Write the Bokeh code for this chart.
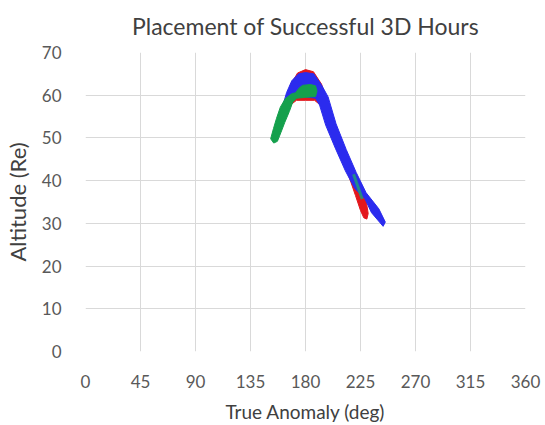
from bokeh.plotting import figure
from bokeh.models import FixedTicker
from bokeh.embed import file_html
from bokeh.resources import INLINE

# Outlines (true anomaly in deg, altitude in Re) of the regions swept by the
# successful 3D-hour tracks, one region per group.
red_deg = [163.6, 167.7, 173.5, 180.0, 186.5, 193.1, 196.4, 201.3, 209.5, 217.5,
           224.0, 229.6, 231.3, 230.2, 227.7, 225.0, 220.9, 214.3, 206.2, 198.2,
           192.6, 187.4, 180.0, 172.6, 167.7]
red_alt = [58.7, 62.4, 65.2, 66.0, 65.5, 62.6, 59.8, 53.3, 47.5, 42.2,
           38.5, 35.3, 32.3, 31.0, 31.3, 33.0, 36.5, 42.0, 47.3, 52.8,
           57.6, 58.8, 58.8, 58.8, 57.7]

blue_deg = [161.5, 164.5, 168.8, 174.3, 180.0, 186.8, 192.9, 198.5, 205.0, 213.3,
            221.5, 229.5, 240.0, 245.3, 243.5, 234.0, 228.5, 220.2, 212.6, 204.4,
            196.5, 191.5, 188.2, 180.0, 171.8, 166.1]
blue_alt = [57.6, 60.6, 63.4, 65.0, 65.3, 65.0, 62.5, 59.6, 53.3, 47.3,
            41.9, 37.2, 33.4, 30.3, 29.3, 32.5, 35.8, 38.2, 42.3, 47.6,
            53.0, 57.7, 59.3, 59.6, 59.5, 58.4]

green_deg = [151.5, 153.8, 156.3, 159.4, 163.5, 168.5, 172.0, 174.5, 177.5, 184.1,
             188.2, 189.4, 188.2, 180.0, 172.6, 169.6, 166.8, 163.0, 159.8, 157.0,
             154.0]
green_alt = [49.8, 52.2, 54.6, 57.2, 59.2, 60.3, 60.6, 61.6, 62.3, 62.5,
             62.2, 61.0, 59.7, 59.5, 59.3, 58.4, 56.2, 53.6, 51.2, 49.2,
             48.8]

# short green track showing through the blue on the descending side
green_trace_deg = [219.3, 226.4]
green_trace_alt = [41.5, 35.7]

x_ticks = [0, 45, 90, 135, 180, 225, 270, 315, 360]
y_ticks = [0, 10, 20, 30, 40, 50, 60, 70]

TITLE = "Placement of Successful 3D Hours"
RED = "#e3171c"
BLUE = "#2b2bee"
GREEN = "#14a04c"
FONT = "Lato"

p = figure(width=545, height=425, x_range=(0, 360), y_range=(0, 70),
           output_backend="svg", toolbar_location=None,
           min_border_left=85, min_border_right=20,
           min_border_top=51, min_border_bottom=73, title=TITLE)

p.patch(red_deg, red_alt, fill_color=RED, line_color=RED, line_width=1)
p.patch(blue_deg, blue_alt, fill_color=BLUE, line_color=BLUE, line_width=1)
p.patch(green_deg, green_alt, fill_color=GREEN, line_color=GREEN, line_width=1)
p.line(green_trace_deg, green_trace_alt, line_color="#1f9a78", line_width=3,
       line_alpha=0.85)

p.title.align = "center"
p.title.vertical_align = "top"
p.title.text_font = FONT
p.title.text_font_size = "23px"
p.title.text_font_style = "normal"
p.title.text_color = "#404040"
p.title.standoff = 22

p.outline_line_color = None
p.background_fill_color = "white"
p.border_fill_color = "white"

for ax in (p.xaxis[0], p.yaxis[0]):
    ax.axis_line_color = None
    ax.major_tick_line_color = None
    ax.minor_tick_line_color = None
    ax.major_label_text_font = FONT
    ax.major_label_text_font_size = "17px"
    ax.major_label_text_color = "#595959"
    ax.axis_label_text_font = FONT
    ax.axis_label_text_font_style = "normal"
    ax.axis_label_text_color = "#404040"

p.xaxis.axis_label_text_font_size = "19px"
p.yaxis.axis_label_text_font_size = "22px"
p.xaxis.ticker = FixedTicker(ticks=x_ticks)
p.yaxis.ticker = FixedTicker(ticks=y_ticks)
p.xaxis.axis_label = "True Anomaly (deg)"
p.yaxis.axis_label = "Altitude (Re)"
p.xaxis.major_label_standoff = 17
p.yaxis.major_label_standoff = 18
p.xaxis.axis_label_standoff = 9
p.yaxis.axis_label_standoff = 8

p.xgrid.ticker = FixedTicker(ticks=x_ticks)
p.ygrid.ticker = FixedTicker(ticks=y_ticks)
p.xgrid.grid_line_color = "#d9d9d9"
p.ygrid.grid_line_color = "#d9d9d9"

open("out.html", "w").write(file_html(p, INLINE))
